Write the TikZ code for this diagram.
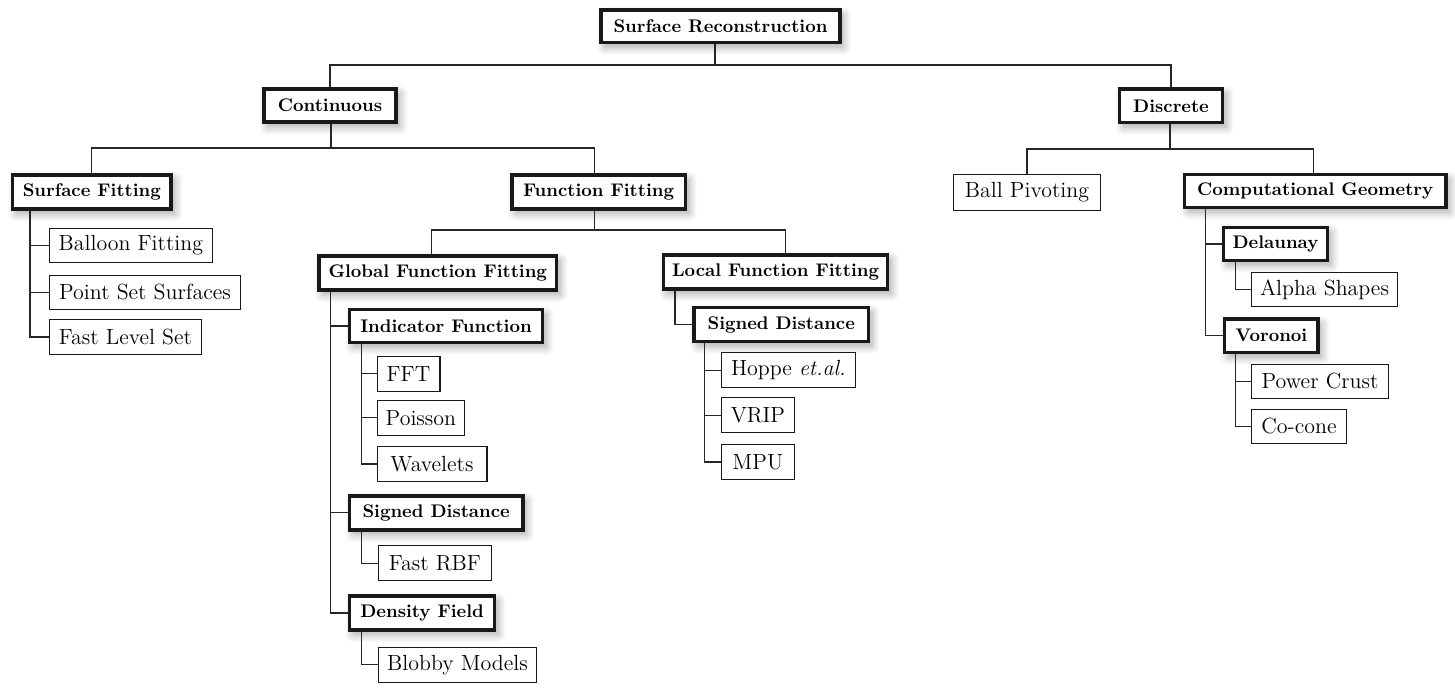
\documentclass[tikz,border=0pt]{standalone}
\usetikzlibrary{shadows.blur}
\tikzset{
  bb/.style={draw=black!90, line width=2pt, fill=white, inner sep=0pt,
    font=\fontsize{10}{12}\selectfont\bfseries,
    blur shadow={shadow xshift=2pt, shadow yshift=-2.5pt, shadow blur radius=4.5pt, shadow blur steps=12, shadow opacity=35}},
  nb/.style={draw=black!90, line width=0.6pt, fill=white, inner sep=0pt,
    font=\fontsize{12}{14}\selectfont},
  conn/.style={draw=black!85, line width=0.7pt},
}
\newcommand\bnode[6]{\node[bb, minimum width={(#4-#3)*0.547pt-2pt}, minimum height={(#6-#5)*0.547pt-2pt}] (#1) at ({(#3+#4)/2},{(#5+#6)/2}) {#2};}
\newcommand\nnode[6]{\node[nb, minimum width={(#4-#3)*0.547pt-0.6pt}, minimum height={(#6-#5)*0.547pt-0.6pt}] (#1) at ({(#3+#4)/2},{(#5+#6)/2}) {#2};}
\begin{document}
\begin{tikzpicture}[x=0.547pt,y=-0.547pt]
\useasboundingbox (0,0) rectangle (1455,693);
% nodes
\bnode{root}{Surface Reconstruction}{599.3}{841.7}{8.3}{44.3}
\bnode{cont}{Continuous}{262}{398}{87}{124}
\bnode{disc}{Discrete}{1117.7}{1224.3}{87.3}{124.3}
\bnode{sf}{Surface Fitting}{10.7}{173}{173}{211}
\bnode{ff}{Function Fitting}{510}{687.3}{173.3}{210.7}
\nnode{bp}{Ball Pivoting}{953.3}{1100.7}{174.3}{210.7}
\bnode{cg}{Computational Geometry}{1182.7}{1447.7}{172.7}{209.3}
\nnode{bf}{Balloon Fitting}{48.7}{213}{228}{263}
\nnode{pss}{Point Set Surfaces}{49}{241}{275}{310}
\nnode{fls}{Fast Level Set}{49}{202}{319}{355}
\bnode{gff}{Global Function Fitting}{317.2}{558.3}{254}{291.7}
\bnode{lff}{Local Function Fitting}{661.7}{889.4}{253}{291}
\bnode{ind}{Indicator Function}{347.8}{544.2}{307.7}{344.3}
\nnode{fft}{FFT}{376.5}{440.5}{355.7}{391.7}
\nnode{poi}{Poisson}{376.5}{465.3}{399.7}{435.7}
\nnode{wav}{Wavelets}{376.5}{487.5}{446}{482}
\bnode{sdg}{Signed Distance}{347.8}{524.6}{494}{531.7}
\nnode{rbf}{Fast RBF}{377.7}{492.1}{545}{581.3}
\bnode{den}{Density Field}{347.8}{496.3}{594.3}{631.7}
\nnode{blob}{Blobby Models}{377.7}{537.3}{646.7}{682.7}
\bnode{sdl}{Signed Distance}{692.3}{870.2}{305.7}{343.3}
\nnode{hop}{Hoppe \textit{et.al.}}{721}{855.7}{352.3}{388.3}
\nnode{vrip}{VRIP}{721}{794.8}{397.3}{433.3}
\nnode{mpu}{MPU}{721}{794.8}{444}{480}
\bnode{del}{Delaunay}{1221.7}{1329.3}{225.7}{262.3}
\nnode{alpha}{Alpha Shapes}{1250.7}{1398.3}{271.7}{307.3}
\bnode{vor}{Voronoi}{1222.7}{1320}{317.3}{354.3}
\nnode{pc}{Power Crust}{1250.7}{1389.3}{363.7}{399.3}
\nnode{coc}{Co-cone}{1250.7}{1347.3}{408.7}{444}
% junction coordinates
\coordinate (j0) at (715,65);
\coordinate (j1) at (331,148);
\coordinate (j1r) at (594.3,148);
\coordinate (j2) at (1170,149);
\coordinate (j2r) at (1313.3,149);
\coordinate (j3) at (594.3,230);
\coordinate (j3l) at (431.7,230);
\coordinate (j3r) at (785.7,230);
\coordinate (xsf) at (30,0);
\coordinate (xgff) at (330.6,0);
\coordinate (xind) at (361.2,0);
\coordinate (xlff) at (675,0);
\coordinate (xsdl) at (704.5,0);
\coordinate (xcg) at (1205.7,0);
\coordinate (xdel) at (1235.7,0);
% tree connectors
\draw[conn] (root.south -| j0) -- (j0);
\draw[conn] (cont.north) |- (j0) -| (disc.north);
\draw[conn] (cont.south -| j1) -- (j1);
\draw[conn] (sf.north) |- (j1) -- (j1r) -- (ff.north -| j1r);
\draw[conn] (disc.south -| j2) -- (j2);
\draw[conn] (bp.north) |- (j2) -- (j2r) -- (cg.north -| j2r);
\draw[conn] (ff.south -| j3) -- (j3);
\draw[conn] (gff.north -| j3l) -- (j3l) -- (j3r) -- (lff.north -| j3r);
% elbow connectors
\draw[conn] (sf.south -| xsf) |- (bf.west);
\draw[conn] (sf.south -| xsf) |- (pss.west);
\draw[conn] (sf.south -| xsf) |- (fls.west);
\draw[conn] (gff.south -| xgff) |- (ind.west);
\draw[conn] (gff.south -| xgff) |- (sdg.west);
\draw[conn] (gff.south -| xgff) |- (den.west);
\draw[conn] (ind.south -| xind) |- (fft.west);
\draw[conn] (ind.south -| xind) |- (poi.west);
\draw[conn] (ind.south -| xind) |- (wav.west);
\draw[conn] (sdg.south -| xind) |- (rbf.west);
\draw[conn] (den.south -| xind) |- (blob.west);
\draw[conn] (lff.south -| xlff) |- (sdl.west);
\draw[conn] (sdl.south -| xsdl) |- (hop.west);
\draw[conn] (sdl.south -| xsdl) |- (vrip.west);
\draw[conn] (sdl.south -| xsdl) |- (mpu.west);
\draw[conn] (cg.south -| xcg) |- (del.west);
\draw[conn] (cg.south -| xcg) |- (vor.west);
\draw[conn] (del.south -| xdel) |- (alpha.west);
\draw[conn] (vor.south -| xdel) |- (pc.west);
\draw[conn] (vor.south -| xdel) |- (coc.west);
\end{tikzpicture}
\end{document}
